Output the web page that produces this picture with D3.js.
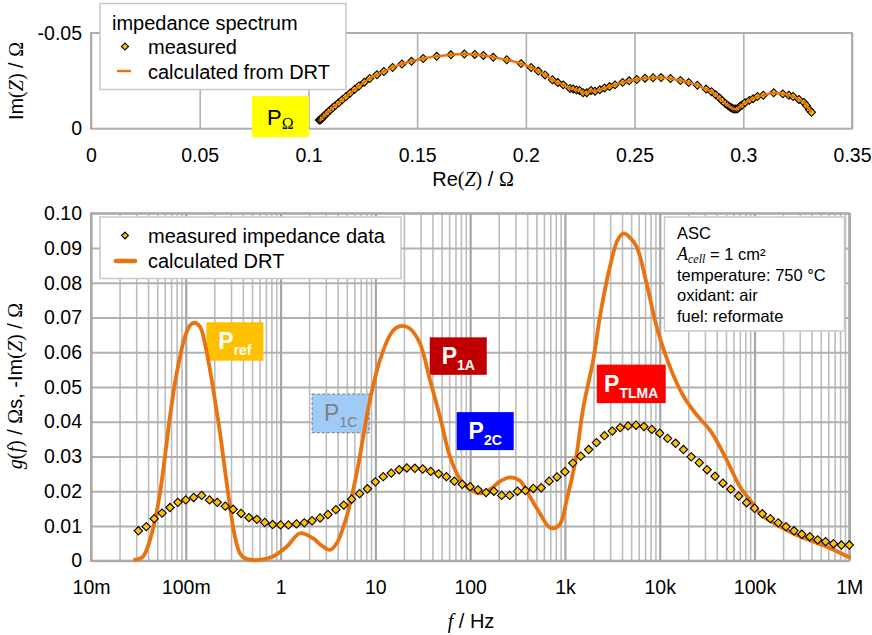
<!DOCTYPE html>
<html>
<head>
<meta charset="utf-8">
<title>Impedance spectrum and DRT</title>
<script src="https://cdn.jsdelivr.net/npm/d3@7"></script>
<style>
  html, body { margin: 0; padding: 0; background: #ffffff; }
  svg { display: block; }
</style>
</head>
<body>
<svg id="chart" width="872" height="635"></svg>
<script>
// ---------- measured impedance spectrum, ascending frequency ----------
const measFreq = [
  0.0316, 0.0383, 0.0464, 0.0562, 0.0681, 0.0825,
  0.1, 0.121, 0.147, 0.178, 0.215, 0.261, 0.316, 0.383, 0.464, 0.562, 0.681, 0.825,
  1, 1.21, 1.47, 1.78, 2.15, 2.61, 3.16, 3.83, 4.64, 5.62, 6.81, 8.25,
  10, 12.1, 14.7, 17.8, 21.5, 26.1, 31.6, 38.3, 46.4, 56.2, 68.1, 82.5,
  100, 121, 147, 178, 215, 261, 316, 383, 464, 562, 681, 825,
  1000, 1210, 1470, 1780, 2150, 2610, 3160, 3830, 4640, 5620, 6810, 8250,
  10000, 12100, 14700, 17800, 21500, 26100, 31600, 38300, 46400, 56200, 68100, 82500,
  100000, 121000, 147000, 178000, 215000, 261000, 316000, 383000, 464000, 562000, 681000, 825000,
  1000000
];
// Re(Z) in ohm
const measReZ = [
  0.3314, 0.3305, 0.3290, 0.3279, 0.3256, 0.3229, 0.3210, 0.3182, 0.3140, 0.3092,
  0.3065, 0.3045, 0.3028, 0.3008, 0.2995, 0.2987, 0.2979, 0.2973, 0.2966, 0.2958,
  0.2951, 0.2945, 0.2937, 0.2928, 0.2916, 0.2903, 0.2891, 0.2873, 0.2854, 0.2829,
  0.2789, 0.2749, 0.2711, 0.2665, 0.2622, 0.2585, 0.2548, 0.2510, 0.2475, 0.2445,
  0.2410, 0.2385, 0.2362, 0.2340, 0.2318, 0.2300, 0.2280, 0.2263, 0.2247, 0.2233,
  0.2218, 0.2203, 0.2172, 0.2147, 0.2122, 0.2088, 0.2057, 0.2024, 0.1978, 0.1912,
  0.1850, 0.1805, 0.1765, 0.1717, 0.1655, 0.1590, 0.1528, 0.1474, 0.1430, 0.1387,
  0.1347, 0.1315, 0.1282, 0.1257, 0.1232, 0.1213, 0.1192, 0.1172, 0.1155, 0.1139,
  0.1124, 0.1112, 0.1100, 0.1089, 0.1080, 0.1074, 0.1066, 0.1062, 0.1058, 0.1054,
  0.1050
];
// -Im(Z) in ohm
const measNegImZ = [
  0.0086, 0.0098, 0.0121, 0.0137, 0.0153, 0.0168, 0.0175, 0.0182, 0.0188, 0.0175,
  0.0168, 0.0157, 0.0148, 0.0136, 0.0124, 0.0119, 0.0110, 0.0104, 0.0103, 0.0103,
  0.0106, 0.0109, 0.0115, 0.0123, 0.0133, 0.0147, 0.0160, 0.0177, 0.0193, 0.0207,
  0.0227, 0.0242, 0.0252, 0.0262, 0.0267, 0.0266, 0.0264, 0.0257, 0.0250, 0.0242,
  0.0229, 0.0220, 0.0213, 0.0204, 0.0196, 0.0200, 0.0188, 0.0188, 0.0200, 0.0202,
  0.0208, 0.0210, 0.0229, 0.0241, 0.0256, 0.0281, 0.0301, 0.0320, 0.0340, 0.0360,
  0.0373, 0.0383, 0.0388, 0.0390, 0.0386, 0.0378, 0.0367, 0.0352, 0.0338, 0.0320,
  0.0299, 0.0282, 0.0262, 0.0243, 0.0223, 0.0206, 0.0186, 0.0167, 0.0151, 0.0135,
  0.0121, 0.0109, 0.0098, 0.0086, 0.0076, 0.0069, 0.0060, 0.0055, 0.0049, 0.0045,
  0.0045
];

// ---------- distribution of relaxation times g(f) ----------
const drtFreq = [
  0.0291, 0.0354, 0.0419, 0.0473, 0.0534, 0.0603, 0.0681, 0.0769, 0.0869, 0.0981,
  0.111, 0.123, 0.141, 0.159, 0.180, 0.203, 0.230, 0.259, 0.293, 0.330,
  0.373, 0.421, 0.512, 0.652, 0.831, 1.16, 1.60, 2.21, 2.67, 3.32,
  3.91, 4.98, 6.35, 7.77, 8.77, 11.2, 14.3, 16.5, 19.7, 23.2,
  29.5, 37.7, 48.0, 61.2, 78.1, 99.5, 127, 162, 206, 263,
  335, 427, 545, 662, 747, 886, 1050, 1306, 1560, 1989,
  2339, 2982, 3624, 4192, 4848, 5706, 7274, 9275, 12810, 17700,
  24500, 33840, 43150, 55020, 70150, 89440, 114000, 145400, 200800, 278100,
  416000, 624600, 1000000
];
const drtG = [
  0.0003, 0.0012, 0.0060, 0.0117, 0.0194, 0.0300, 0.0415, 0.0511, 0.0587, 0.0645,
  0.0678, 0.0685, 0.0674, 0.0626, 0.0549, 0.0463, 0.0367, 0.0261, 0.0155, 0.0069,
  0.0021, 0.0007, 0.0002, 0.0004, 0.0012, 0.0040, 0.0079, 0.0064, 0.0045, 0.0031,
  0.0050, 0.0127, 0.0252, 0.0386, 0.0463, 0.0578, 0.0650, 0.0670, 0.0676, 0.0668,
  0.0626, 0.0520, 0.0415, 0.0300, 0.0235, 0.0205, 0.0194, 0.0205, 0.0228, 0.0240,
  0.0230, 0.0184, 0.0136, 0.0100, 0.0093, 0.0105, 0.0178, 0.0295, 0.0440, 0.0578,
  0.0702, 0.0846, 0.0925, 0.0942, 0.0930, 0.0904, 0.0798, 0.0674, 0.0558, 0.0475,
  0.0420, 0.0376, 0.0328, 0.0271, 0.0213, 0.0175, 0.0136, 0.0115, 0.0093, 0.0074,
  0.0055, 0.0036, 0.0010
];

// ---------- ticks ----------
const reTicks = [0, 0.05, 0.1, 0.15, 0.2, 0.25, 0.3, 0.35];
const reTickLabels = ["0", "0.05", "0.1", "0.15", "0.2", "0.25", "0.3", "0.35"];
const imTicks = [0, -0.05];
const imTickLabels = ["0", "-0.05"];
const freqTicks = [0.01, 0.1, 1, 10, 100, 1e3, 1e4, 1e5, 1e6];
const freqTickLabels = ["10m", "100m", "1", "10", "100", "1k", "10k", "100k", "1M"];
const gTicks = [0, 0.01, 0.02, 0.03, 0.04, 0.05, 0.06, 0.07, 0.08, 0.09, 0.1];
const gTickLabels = ["0", "0.01", "0.02", "0.03", "0.04", "0.05", "0.06", "0.07", "0.08", "0.09", "0.10"];

const infoLines = ["ASC", "temperature: 750 °C", "oxidant: air", "fuel: reformate"];

// ---------- drawing ----------
const SANS = '"Liberation Sans", Arial, Helvetica, sans-serif';
const SERIF = '"Liberation Serif", "Times New Roman", serif';
const ORANGE = "#E8730F";
const GOLD = "#FFC000";
const GRID = "#b4b4b4";

const svg = d3.select("#chart");
svg.append("rect").attr("width", 872).attr("height", 635).attr("fill", "#fff");

const meas = measFreq.map((f, i) => ({ f, re: measReZ[i], im: -measNegImZ[i], nim: measNegImZ[i] }));
const drt = drtFreq.map((f, i) => ({ f, g: drtG[i] }));

function rich(textSel, parts) {
  parts.forEach(p => {
    const t = textSel.append("tspan").text(p.t)
      .attr("font-family", p.serif ? SERIF : SANS);
    if (p.it) t.attr("font-style", "italic");
    if (p.size) t.attr("font-size", p.size);
    if (p.dy !== undefined) t.attr("dy", p.dy);
    if (p.bold) t.attr("font-weight", "bold");
  });
  return textSel;
}

function diamond(sel, side) {
  return sel.attr("d", d3.symbol(d3.symbolSquare, side * side)())
    .attr("fill", GOLD).attr("stroke", "#000").attr("stroke-width", 1.1);
}

// ===== Nyquist plot =====
const nq = { l: 91, r: 852, t: 33, b: 128.7 };
const xRe = d3.scaleLinear().domain([0, 0.35]).range([nq.l, nq.r]);
const yIm = d3.scaleLinear().domain([0, -0.05]).range([nq.b, nq.t]);

const gTop = svg.append("g");
const xAxTop = gTop.append("g").attr("transform", `translate(0,${nq.b})`)
  .call(d3.axisBottom(xRe).tickValues(reTicks).tickFormat((d, i) => reTickLabels[i])
    .tickSize(-(nq.b - nq.t)).tickPadding(19));
xAxTop.select(".domain").remove();
xAxTop.selectAll("line").attr("stroke", GRID).attr("stroke-width", 1.7);
xAxTop.selectAll("text").attr("font-family", SANS).attr("font-size", 19.5).attr("fill", "#000");

const yAxTop = gTop.append("g").attr("transform", `translate(${nq.l},0)`)
  .call(d3.axisLeft(yIm).tickValues(imTicks).tickFormat((d, i) => imTickLabels[i])
    .tickSize(0).tickPadding(9));
yAxTop.select(".domain").remove();
yAxTop.selectAll("text").attr("font-family", SANS).attr("font-size", 19.5).attr("fill", "#000");

gTop.append("rect").attr("x", nq.l).attr("y", nq.t)
  .attr("width", nq.r - nq.l).attr("height", nq.b - nq.t)
  .attr("fill", "none").attr("stroke", "#adadad").attr("stroke-width", 2);

const nyqSorted = meas.slice().sort((a, b) => a.re - b.re);
gTop.append("g").selectAll("path").data(nyqSorted).join("path")
  .call(diamond, 5.6)
  .attr("transform", d => `translate(${xRe(d.re)},${yIm(d.im)}) rotate(45)`);
gTop.append("path").datum(nyqSorted)
  .attr("fill", "none").attr("stroke", ORANGE).attr("stroke-width", 2.4)
  .attr("d", d3.line().x(d => xRe(d.re)).y(d => yIm(d.im)).curve(d3.curveCatmullRom.alpha(0.5)));

// legend
const lgTop = gTop.append("g");
lgTop.append("rect").attr("x", 100).attr("y", 3.5).attr("width", 246).attr("height", 86)
  .attr("fill", "#fff").attr("stroke", "#c8c8c8").attr("stroke-width", 1.5);
lgTop.append("text").attr("x", 112).attr("y", 29.5).attr("font-family", SANS).attr("font-size", 20)
  .text("impedance spectrum");
lgTop.append("path").call(diamond, 5).attr("transform", "translate(125,46.5) rotate(45)");
lgTop.append("text").attr("x", 148).attr("y", 54).attr("font-family", SANS).attr("font-size", 20)
  .text("measured");
lgTop.append("line").attr("x1", 117).attr("x2", 131).attr("y1", 71).attr("y2", 71)
  .attr("stroke", ORANGE).attr("stroke-width", 2.4);
lgTop.append("text").attr("x", 148).attr("y", 78.5).attr("font-family", SANS).attr("font-size", 20)
  .text("calculated from DRT");

// P_Ω annotation (centre in data coordinates)
{
  const cx = xRe(0.0871), cy = yIm(-0.0063), w = 57, h = 41;
  gTop.append("rect").attr("x", cx - w / 2).attr("y", cy - h / 2).attr("width", w).attr("height", h)
    .attr("fill", "#FFFF00");
  rich(gTop.append("text").attr("x", cx).attr("y", cy + 8.5).attr("text-anchor", "middle")
    .attr("font-size", 22).attr("fill", "#000"),
    [{ t: "P" }, { t: "Ω", serif: true, size: 16, dy: 4 }]);
}

// axis titles
rich(svg.append("text").attr("x", 473).attr("y", 186).attr("text-anchor", "middle")
  .attr("font-size", 20).attr("fill", "#000"),
  [{ t: "Re" }, { t: "(", serif: true }, { t: "Z", serif: true, it: true }, { t: ")", serif: true },
   { t: " / " }, { t: "Ω", serif: true }]);
rich(svg.append("text").attr("transform", "translate(23,81) rotate(-90)").attr("text-anchor", "middle")
  .attr("font-size", 20).attr("fill", "#000"),
  [{ t: "Im" }, { t: "(", serif: true }, { t: "Z", serif: true, it: true }, { t: ")", serif: true },
   { t: " / " }, { t: "Ω", serif: true }]);

// ===== DRT plot =====
const dp = { l: 91, r: 849.3, t: 213.3, b: 560.7 };
const xF = d3.scaleLog().domain([0.01, 1e6]).range([dp.l, dp.r]);
const yG = d3.scaleLinear().domain([0, 0.1]).range([dp.b, dp.t]);

const gBot = svg.append("g");

// minor decade gridlines
const minorF = [];
freqTicks.slice(0, -1).forEach(p => { for (let m = 2; m <= 9; m++) minorF.push(m * p); });
const minorAx = gBot.append("g").attr("transform", `translate(0,${dp.b})`)
  .call(d3.axisBottom(xF).tickValues(minorF).tickFormat("").tickSize(-(dp.b - dp.t)));
minorAx.select(".domain").remove();
minorAx.selectAll("line").attr("stroke", "#bdbdbd").attr("stroke-width", 1.6);

const yAxBot = gBot.append("g").attr("transform", `translate(${dp.l},0)`)
  .call(d3.axisLeft(yG).tickValues(gTicks).tickFormat((d, i) => gTickLabels[i])
    .tickSize(-(dp.r - dp.l)).tickPadding(9));
yAxBot.select(".domain").remove();
yAxBot.selectAll("line").attr("stroke", "#b0b0b0").attr("stroke-width", 1.9);
yAxBot.selectAll("text").attr("font-family", SANS).attr("font-size", 19.5).attr("fill", "#000");

const xAxBot = gBot.append("g").attr("transform", `translate(0,${dp.b})`)
  .call(d3.axisBottom(xF).tickValues(freqTicks).tickFormat((d, i) => freqTickLabels[i])
    .tickSize(-(dp.b - dp.t)).tickPadding(19));
xAxBot.select(".domain").remove();
xAxBot.selectAll("line").attr("stroke", "#a6a6a6").attr("stroke-width", 2.2);
xAxBot.selectAll("text").attr("font-family", SANS).attr("font-size", 19.5).attr("fill", "#000");

gBot.append("rect").attr("x", dp.l).attr("y", dp.t)
  .attr("width", dp.r - dp.l).attr("height", dp.b - dp.t)
  .attr("fill", "none").attr("stroke", "#a8a8a8").attr("stroke-width", 2);

// peak annotations (centres in data coordinates)
const peakBoxes = [
  { sub: "ref",  f: 0.330, g: 0.0631, w: 57, h: 38.5, fill: "#FFC000", col: "#fff", bold: true },
  { sub: "1C",   f: 4.31,  g: 0.0424, w: 57, h: 38.5, fill: "#9ECBF7", col: "#808080", bold: false, dash: true },
  { sub: "1A",   f: 74.9,  g: 0.0589, w: 57, h: 37.5, fill: "#C00000", col: "#fff", bold: true },
  { sub: "2C",   f: 144.2, g: 0.0373, w: 57, h: 38,   fill: "#0000FF", col: "#fff", bold: true },
  { sub: "TLMA", f: 5004,  g: 0.0509, w: 69, h: 38.5, fill: "#FF0000", col: "#fff", bold: true }
];
const gPeaks = gBot.append("g");
peakBoxes.forEach(p => {
  const cx = xF(p.f), cy = yG(p.g);
  const r = gPeaks.append("rect").attr("x", cx - p.w / 2).attr("y", cy - p.h / 2)
    .attr("width", p.w).attr("height", p.h).attr("fill", p.fill);
  if (p.dash) r.attr("stroke", "#8c8c8c").attr("stroke-width", 1.3).attr("stroke-dasharray", "3,2");
  rich(gPeaks.append("text").attr("x", cx).attr("y", cy + 8).attr("text-anchor", "middle")
    .attr("fill", p.col).attr("font-size", 23),
    [{ t: "P", bold: p.bold }, { t: p.sub, size: 14, dy: 6, bold: p.bold }]);
});

// DRT curve
gBot.append("path").datum(drt)
  .attr("fill", "none").attr("stroke", ORANGE).attr("stroke-width", 3.8)
  .attr("stroke-linejoin", "round").attr("stroke-linecap", "round")
  .attr("d", d3.line().x(d => xF(d.f)).y(d => yG(d.g)).curve(d3.curveCatmullRom.alpha(0.5)));

// measured -Im(Z) over frequency
gBot.append("g").selectAll("path").data(meas).join("path")
  .call(diamond, 5.9)
  .attr("transform", d => `translate(${xF(d.f)},${yG(d.nim)}) rotate(45)`);

// legend
const lgBot = gBot.append("g");
lgBot.append("rect").attr("x", 100).attr("y", 217).attr("width", 301).attr("height", 61.5)
  .attr("fill", "#fff").attr("stroke", "#c8c8c8").attr("stroke-width", 1.5);
lgBot.append("path").call(diamond, 4.8).attr("transform", "translate(125,235.5) rotate(45)");
lgBot.append("text").attr("x", 148).attr("y", 242.8).attr("font-family", SANS).attr("font-size", 20)
  .text("measured impedance data");
lgBot.append("line").attr("x1", 116).attr("x2", 135).attr("y1", 261).attr("y2", 261)
  .attr("stroke", ORANGE).attr("stroke-width", 4.5).attr("stroke-linecap", "round");
lgBot.append("text").attr("x", 148).attr("y", 267.7).attr("font-family", SANS).attr("font-size", 20)
  .text("calculated DRT");

// conditions box
const info = gBot.append("g");
info.append("rect").attr("x", 664.5).attr("y", 217).attr("width", 180).attr("height", 114)
  .attr("fill", "#fff").attr("stroke", "#c8c8c8").attr("stroke-width", 1.5);
const infoFs = 16.5, lineH = 20.8, y0 = 239;
info.append("text").attr("x", 677).attr("y", y0).attr("font-family", SANS).attr("font-size", infoFs)
  .text(infoLines[0]);
rich(info.append("text").attr("x", 677).attr("y", y0 + lineH).attr("font-size", infoFs),
  [{ t: "A", serif: true, it: true, size: 18 }, { t: "cell", serif: true, it: true, size: 12, dy: 3 },
   { t: " = 1 cm²", dy: -3 }]);
infoLines.slice(1).forEach((s, i) => {
  info.append("text").attr("x", 677).attr("y", y0 + lineH * (i + 2))
    .attr("font-family", SANS).attr("font-size", infoFs).text(s);
});

// axis titles
rich(svg.append("text").attr("x", 471).attr("y", 628).attr("text-anchor", "middle")
  .attr("font-size", 20).attr("fill", "#000"),
  [{ t: "f", serif: true, it: true }, { t: " / Hz" }]);
rich(svg.append("text").attr("transform", "translate(22,386) rotate(-90)").attr("text-anchor", "middle")
  .attr("font-size", 20).attr("fill", "#000"),
  [{ t: "g", serif: true, it: true }, { t: "(", serif: true }, { t: "f", serif: true, it: true },
   { t: ")", serif: true }, { t: " / " }, { t: "Ω", serif: true }, { t: "s, -Im" },
   { t: "(", serif: true }, { t: "Z", serif: true, it: true }, { t: ")", serif: true },
   { t: " / " }, { t: "Ω", serif: true }]);
</script>
</body>
</html>
